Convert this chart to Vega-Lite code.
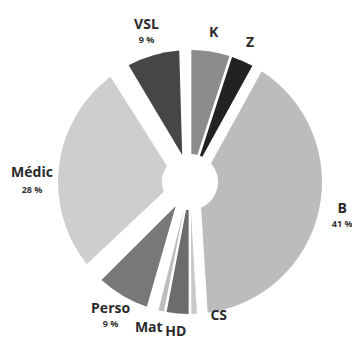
{
  "$schema": "https://vega.github.io/schema/vega-lite/v6.json",
  "autosize": {"type": "none"},
  "width": 324,
  "height": 320,
  "padding": {"left": 28, "top": 22, "right": 0, "bottom": 0},
  "background": "white",
  "config": {"view": {"stroke": null}},
  "data": {
    "values": [
      {"idx": 1, "cat": "K", "value": 5, "pct": ""},
      {"idx": 2, "cat": "Z", "value": 3, "pct": ""},
      {"idx": 3, "cat": "B", "value": 41, "pct": "41 %"},
      {"idx": 4, "cat": "CS", "value": 1, "pct": ""},
      {"idx": 5, "cat": "HD", "value": 3, "pct": ""},
      {"idx": 6, "cat": "Mat", "value": 1, "pct": ""},
      {"idx": 7, "cat": "Perso", "value": 9, "pct": "9 %"},
      {"idx": 8, "cat": "Médic", "value": 28, "pct": "28 %"},
      {"idx": 9, "cat": "VSL", "value": 9, "pct": "9 %"}
    ]
  },
  "encoding": {
    "theta": {"field": "value", "type": "quantitative", "stack": true},
    "order": {"field": "idx", "type": "quantitative"}
  },
  "layer": [
    {
      "mark": {"type": "arc", "outerRadius": 132, "innerRadius": 28, "padAngle": 0.02},
      "encoding": {
        "color": {"field": "cat", "type": "nominal", "legend": null,
          "scale": {"domain": ["K", "Z", "B", "CS", "HD", "Mat", "Perso", "Médic", "VSL"],
                    "range": ["#8c8c8c", "#222222", "#bcbcbc", "#c8c8c8", "#6c6c6c", "#bdbdbd", "#787878", "#cecece", "#464646"]}},
        "opacity": {"condition": {"test": {"field": "cat", "oneOf": ["K", "Z", "CS", "HD", "Mat"]}, "value": 1}, "value": 0}
      }
    },
    {
      "mark": {"type": "arc", "outerRadius": 132, "innerRadius": 28, "padAngle": 0.14},
      "encoding": {
        "color": {"field": "cat", "type": "nominal", "legend": null},
        "opacity": {"condition": {"test": {"field": "cat", "equal": "B"}, "value": 1}, "value": 0}
      }
    },
    {
      "mark": {"type": "arc", "outerRadius": 132, "innerRadius": 28, "padAngle": 0.16},
      "encoding": {
        "color": {"field": "cat", "type": "nominal", "legend": null},
        "opacity": {"condition": {"test": {"field": "cat", "oneOf": ["Perso", "Médic", "VSL"]}, "value": 1}, "value": 0}
      }
    },
    {
      "mark": {"type": "text", "radius": 156, "dy": -7, "font": "Open Sans", "fontWeight": "bold", "fontSize": 14, "color": "#2a2a2a"},
      "encoding": {
        "text": {"condition": {"test": {"field": "cat", "oneOf": ["B", "Perso", "VSL"]}, "field": "cat"}, "value": ""}
      }
    },
    {
      "mark": {"type": "text", "radius": 156, "dy": 8, "font": "Open Sans", "fontWeight": "bold", "fontSize": 9, "color": "#333"},
      "encoding": {
        "text": {"condition": {"test": {"field": "cat", "oneOf": ["B", "Perso", "VSL"]}, "field": "pct"}, "value": ""}
      }
    },
    {
      "mark": {"type": "text", "radius": 158, "thetaOffset": -0.12, "dy": -8, "font": "Open Sans", "fontWeight": "bold", "fontSize": 14, "color": "#2a2a2a"},
      "encoding": {
        "text": {"condition": {"test": {"field": "cat", "equal": "Médic"}, "field": "cat"}, "value": ""}
      }
    },
    {
      "mark": {"type": "text", "radius": 158, "thetaOffset": -0.12, "dy": 9, "font": "Open Sans", "fontWeight": "bold", "fontSize": 9, "color": "#333"},
      "encoding": {
        "text": {"condition": {"test": {"field": "cat", "equal": "Médic"}, "field": "pct"}, "value": ""}
      }
    },
    {
      "mark": {"type": "text", "radius": 151, "font": "Open Sans", "fontWeight": "bold", "fontSize": 14, "color": "#2a2a2a"},
      "encoding": {
        "text": {"condition": {"test": {"field": "cat", "oneOf": ["K", "Z", "HD"]}, "field": "cat"}, "value": ""}
      }
    },
    {
      "mark": {"type": "text", "radius": 137, "thetaOffset": -0.18, "font": "Open Sans", "fontWeight": "bold", "fontSize": 14, "color": "#2a2a2a"},
      "encoding": {
        "text": {"condition": {"test": {"field": "cat", "equal": "CS"}, "field": "cat"}, "value": ""}
      }
    },
    {
      "mark": {"type": "text", "radius": 152, "thetaOffset": 0.055, "font": "Open Sans", "fontWeight": "bold", "fontSize": 14, "color": "#2a2a2a"},
      "encoding": {
        "text": {"condition": {"test": {"field": "cat", "equal": "Mat"}, "field": "cat"}, "value": ""}
      }
    }
  ]
}
